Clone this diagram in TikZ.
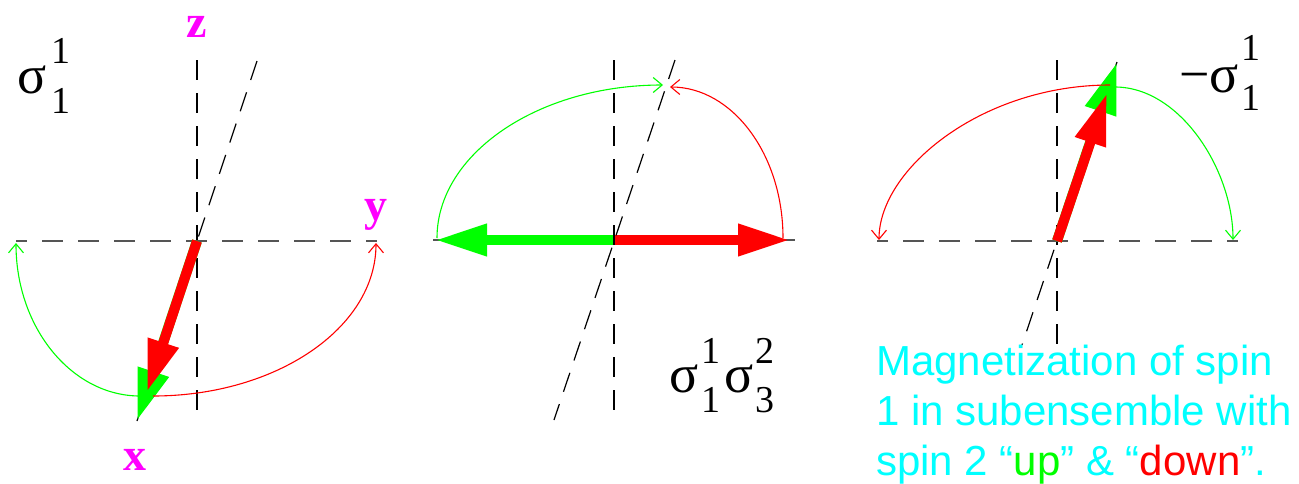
\documentclass[tikz,border=0pt]{standalone}
\usepackage{fontspec}
\setmainfont{Liberation Serif}
\newfontfamily\capfont{Liberation Sans}
\usetikzlibrary{arrows.meta}
\definecolor{mag}{RGB}{255,0,255}
\definecolor{cyn}{RGB}{0,255,255}
\definecolor{grn}{RGB}{0,255,0}
\definecolor{rd}{RGB}{255,0,0}
\definecolor{dgray}{RGB}{85,85,85}
\tikzset{
 axis/.style={black, line width=1.2pt, dash pattern=on 20pt off 13pt},
 haxis/.style={dgray, line width=2.5pt, dash pattern=on 21pt off 15pt, dash phase=10pt},
 bigarrow/.style={line width=10pt, -{Triangle[length=52pt,width=30pt]}},
 thinarc/.style={line width=1.1pt, -{Straight Barb[length=9pt,width=15pt]}},
 axlabel/.style={text=mag, font=\fontsize{46}{46}\selectfont\bfseries, inner sep=0pt, anchor=base},
 sig/.style={font=\fontsize{54}{54}\selectfont, inner sep=0pt, anchor=base},
 scr/.style={font=\fontsize{38}{38}\selectfont, inner sep=0pt, anchor=base},
 captext/.style={text=cyn, font=\capfont\fontsize{42}{50}\selectfont, inner sep=0pt, anchor=base west},
}
\begin{document}
\begin{tikzpicture}[x=1pt,y=-1pt]
\useasboundingbox (0,0) rectangle (1299,483);

% ---------- Panel 1 ----------
\coordinate (O1) at (197,241);
\coordinate (zt1) at (197,60);
\coordinate (zb1) at (197,422);
\coordinate (st1) at (257,61);
\coordinate (sb1) at (137,421);
\coordinate (hl1) at (16,241);
\coordinate (hr1) at (377,241);
\coordinate (gt1) at (137,421);
\coordinate (rt1) at (147,392);
\coordinate (ga1) at (140,396);
\coordinate (ge1) at (16,243);
\coordinate (ra1) at (153,396);
\coordinate (re1) at (376,243);

\draw[axis] (zt1) -- (zb1);
\draw[axis] (st1) -- (sb1);
\draw[haxis] (hl1) -- (hr1);
\draw[bigarrow, grn] (O1) -- (gt1);
\draw[bigarrow, rd] (O1) -- (rt1);
\draw[thinarc, grn] (ga1) .. controls (72,396) and (16,328) .. (ge1);
\draw[thinarc, rd] (ra1) .. controls (276,396) and (376,328) .. (re1);

\node[axlabel] (lz) at (197,37) {z};
\node[axlabel] (ly) at (376,220) {y};
\node[axlabel] (lx) at (135,470) {x};

\node[sig] (s1) at (32,93) {σ};
\node[scr] (s1u) at (61,63) {1};
\node[scr] (s1d) at (61,113) {1};

% ---------- Panel 2 ----------
\coordinate (O2) at (614,240);
\coordinate (zt2) at (614,60);
\coordinate (zb2) at (614,420);
\coordinate (st2) at (675,60);
\coordinate (sb2) at (554,420);
\coordinate (hl2) at (433,240);
\coordinate (hr2) at (795,240);
\coordinate (gt2) at (435,240);
\coordinate (rt2) at (790,240);
\coordinate (ga2) at (437,238);
\coordinate (ge2) at (663,85);
\coordinate (ra2) at (783,238);
\coordinate (re2) at (670,87);

\draw[dgray, line width=2.5pt] (hl2) -- (hr2);
\draw[bigarrow, grn] (O2) -- (gt2);
\draw[bigarrow, rd] (O2) -- (rt2);
\draw[axis] (zt2) -- (zb2);
\draw[axis] (st2) -- (sb2);
\draw[thinarc, grn] (ga2) .. controls (437,154) and (538,85) .. (ge2);
\draw[thinarc, rd] (ra2) .. controls (783,154) and (732,87) .. (re2);

\node[sig] (s2a) at (684,392) {σ};
\node[scr] (s2au) at (711,363) {1};
\node[scr] (s2ad) at (711,412) {1};
\node[sig] (s2b) at (739,392) {σ};
\node[scr] (s2bu) at (765,363) {2};
\node[scr] (s2bd) at (765,412) {3};

% ---------- Panel 3 ----------
\coordinate (O3) at (1057,241);
\coordinate (zt3) at (1057,60);
\coordinate (zb3) at (1057,345);
\coordinate (st3) at (1117,62);
\coordinate (sb3) at (1022,345);
\coordinate (hl3) at (877,241);
\coordinate (hr3) at (1238,241);
\coordinate (gt3) at (1117,62);
\coordinate (rt3) at (1107,93);
\coordinate (ra3) at (1110,85);
\coordinate (re3) at (879,240);
\coordinate (ga3) at (1115,87);
\coordinate (ge3) at (1233,240);

\draw[axis] (zt3) -- (zb3);
\draw[axis] (st3) -- (sb3);
\draw[haxis] (hl3) -- (hr3);
\draw[bigarrow, grn] (O3) -- (gt3);
\draw[bigarrow, rd] (O3) -- (rt3);
\draw[thinarc, rd] (ra3) .. controls (982,85) and (879,169) .. (re3);
\draw[thinarc, grn] (ga3) .. controls (1180,87) and (1233,170) .. (ge3);

\node[sig] (s3m) at (1195,92) {−};
\node[sig] (s3) at (1224,92) {σ};
\node[scr] (s3u) at (1251,60) {1};
\node[scr] (s3d) at (1251,110) {1};

% ---------- Caption ----------
\node[captext] (cap1) at (876,375) {Magnetization of spin};
\node[captext] (cap2) at (876,425) {1 in subensemble with};
\node[captext] (cap3) at (876,475) {spin 2 “\textcolor{grn}{up}” \& “\textcolor{rd}{down}”.};
\end{tikzpicture}
\end{document}
